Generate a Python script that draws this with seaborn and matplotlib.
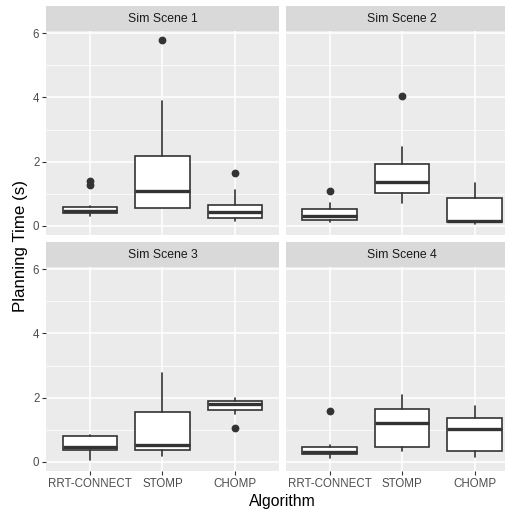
import numpy as np
import pandas as pd
import matplotlib
matplotlib.use("Agg")
import matplotlib.pyplot as plt
import seaborn as sns
from matplotlib.patches import Rectangle
from matplotlib.ticker import MultipleLocator

# ---- data (five-number summaries, seconds) ----
scenes = ["Sim Scene 1", "Sim Scene 2", "Sim Scene 3", "Sim Scene 4"]
algorithms = ["RRT-CONNECT", "STOMP", "CHOMP"]

whis_lo = [[0.30, 0.56, 0.15], [0.12, 0.72, 0.05], [0.07, 0.17, 1.50], [0.12, 0.33, 0.15]]
q1 = [[0.39, 0.56, 0.25], [0.17, 1.02, 0.13], [0.36, 0.36, 1.61], [0.25, 0.45, 0.33]]
median = [[0.46, 1.09, 0.43], [0.31, 1.37, 0.15], [0.47, 0.54, 1.79], [0.31, 1.22, 1.02]]
q3 = [[0.60, 2.19, 0.65], [0.53, 1.92, 0.88], [0.79, 1.56, 1.91], [0.47, 1.64, 1.36]]
whis_hi = [[0.62, 3.88, 1.13], [0.71, 2.45, 1.32], [0.84, 2.78, 1.98], [0.51, 2.08, 1.73]]
outliers = [[[1.28, 1.40], [5.78], [1.65]],
            [[1.10], [4.05], []],
            [[], [], [1.05]],
            [[1.59], [], []]]

rows = []
for i, sc in enumerate(scenes):
    for j, alg in enumerate(algorithms):
        rows.append({"scene": sc, "algorithm": alg, "pos": j,
                     "whislo": whis_lo[i][j], "q1": q1[i][j], "med": median[i][j],
                     "q3": q3[i][j], "whishi": whis_hi[i][j],
                     "fliers": outliers[i][j]})
df = pd.DataFrame(rows)

# ---- ggplot-like theme ----
sns.set_theme(style="darkgrid", rc={
    "axes.facecolor": "#EBEBEB",
    "grid.color": "white",
    "axes.edgecolor": "none",
    "xtick.color": "#333333",
    "ytick.color": "#333333",
    "xtick.labelcolor": "#4D4D4D",
    "ytick.labelcolor": "#4D4D4D",
})
plt.rcParams['font.family'] = ['Liberation Sans', 'DejaVu Sans']

EDGE = "#333333"


def draw_box(data, **kws):
    ax = plt.gca()
    stats = []
    for _, r in data.iterrows():
        stats.append({"whislo": r["whislo"], "q1": r["q1"], "med": r["med"],
                      "q3": r["q3"], "whishi": r["whishi"],
                      "fliers": np.array(r["fliers"])})
    ax.bxp(stats, positions=data["pos"].values, widths=0.75, patch_artist=True,
           showcaps=False,
           boxprops=dict(facecolor="white", edgecolor=EDGE, linewidth=1.2),
           medianprops=dict(color=EDGE, linewidth=2.4, solid_capstyle="butt"),
           whiskerprops=dict(color=EDGE, linewidth=1.2),
           flierprops=dict(marker="o", markerfacecolor=EDGE, markeredgecolor=EDGE,
                           markersize=4.6, linestyle="none"),
           zorder=3)


g = sns.FacetGrid(df, col="scene", col_wrap=2, sharex=True, sharey=True,
                  col_order=scenes, height=2.5, aspect=1.0)
g.map_dataframe(draw_box)
g.set_titles("")

fig = g.figure
fig.set_size_inches(5.06, 5.11)
fig.set_dpi(100)

W, H = 506.0, 511.0
lefts = [46.4, 286.0]
width = 232.2
tops = [31.0, 267.0]
height = 203.5

for k, ax in enumerate(g.axes.flat):
    r, c = divmod(k, 2)
    ax.set_position([lefts[c] / W, 1 - (tops[r] + height) / H, width / W, height / H])
    ax.set_xlim(-0.6, 2.6)
    ax.set_ylim(-0.27, 6.07)
    ax.set_xticks(range(len(algorithms)))
    ax.set_xticklabels(algorithms if r == 1 else [])
    ax.yaxis.set_major_locator(MultipleLocator(2))
    ax.yaxis.set_minor_locator(MultipleLocator(1))
    ax.grid(which="major", color="white", linewidth=1.1)
    ax.grid(which="minor", axis="y", color="white", linewidth=0.55)
    ax.set_axisbelow(True)
    ax.tick_params(axis="both", which="major", length=2.9, width=0.8, pad=2.2,
                   labelsize=8.3, bottom=(r == 1), left=(c == 0),
                   labelbottom=(r == 1), labelleft=(c == 0))
    ax.tick_params(which="minor", length=0)
    ax.set_xlabel("")
    ax.set_ylabel("")
    for s in ax.spines.values():
        s.set_visible(False)
    # facet strip
    strip_h = 25.0 / height
    ax.add_patch(Rectangle((0, 1), 1, strip_h, transform=ax.transAxes,
                           facecolor="#D9D9D9", edgecolor="none", clip_on=False))
    ax.text(0.5, 1 + strip_h / 2, scenes[k], transform=ax.transAxes,
            ha="center", va="center", fontsize=8.8, color="#1A1A1A")

fig.text(21 / W, 1 - 245.5 / H, "Planning Time (s)", rotation=90,
         ha="center", va="center", fontsize=12.2, color="black")
fig.text(282 / W, 1 - 501 / H, "Algorithm", ha="center", va="center",
         fontsize=11.3, color="black")

fig.savefig("out.png", dpi=100, facecolor="white")
